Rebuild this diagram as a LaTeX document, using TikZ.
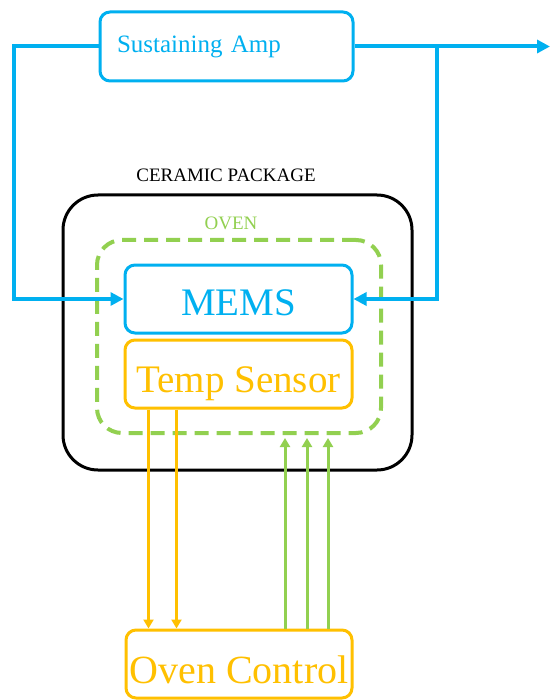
\documentclass[tikz,border=0pt]{standalone}
\usepackage{fontspec}
\setmainfont{Liberation Serif}
\newfontfamily\labelfont{Liberation Serif}
\usetikzlibrary{positioning}
\usetikzlibrary{arrows.meta}
\definecolor{ampblue}{RGB}{0,176,240}
\definecolor{ovengreen}{RGB}{146,208,80}
\definecolor{sensorgold}{RGB}{255,192,0}
\tikzset{main node/.style={shape=rectangle,
    draw, align=center, inner sep=0pt,
    rounded corners=10pt, line width=3pt}}
\tikzset{blue wire/.style={draw=ampblue, line width=4pt,
    -{Triangle[length=13pt,width=13pt]}}}
\tikzset{gold wire/.style={draw=sensorgold, line width=3pt,
    -{Triangle[length=9pt,width=10pt]}}}
\tikzset{green wire/.style={draw=ovengreen, line width=3pt,
    -{Triangle[length=9pt,width=10pt]}}}

\begin{document}
\begin{tikzpicture}[x=1pt,y=-1pt]
    \useasboundingbox[fill=white] (0,0) rectangle (550,700);

    \node[main node, draw=ampblue, text=ampblue, minimum height=69pt,
        text width=219pt, inner xsep=17pt, align=left,
        font=\labelfont\fontsize{25}{26}\selectfont, text height=17pt, text depth=4pt]
        (1) at (226.5,46.5) {Sustaining Amp};

    \node[main node, draw=black, rounded corners=35pt,
        minimum width=349pt, minimum height=275pt] (2) at (237.5,332.5) {};
    \node[anchor=base, font=\labelfont\fontsize{19}{20}\selectfont] (2l) at (226,182) {CERAMIC PACKAGE};

    \node[main node, draw=ovengreen, line width=4pt, dash pattern=on 14pt off 8pt,
        rounded corners=25pt, minimum width=284pt, minimum height=193pt] (3) at (239,336.5) {};
    \node[anchor=base, text=ovengreen, font=\labelfont\fontsize{19}{20}\selectfont] (3l) at (231,230) {OVEN};

    \node[main node, draw=ampblue, text=ampblue, minimum width=227pt, minimum height=68pt,
        font=\labelfont\fontsize{39}{40}\selectfont, text height=32pt, text depth=0pt]
        (4) at (238.5,299) {MEMS};
    \node[main node, draw=sensorgold, text=sensorgold, minimum width=227pt, minimum height=68pt,
        font=\labelfont\fontsize{39}{40}\selectfont, text height=36pt, text depth=0pt]
        (5) [below = 4pt of 4] {Temp Sensor};
%    \node[main node] (6) [below = 8cm of 5] {Oven Control};
    \node[main node, draw=sensorgold, text=sensorgold, minimum width=226pt, minimum height=68pt,
        font=\labelfont\fontsize{40}{41}\selectfont, text height=38pt, text depth=0pt]
        (6) at (239,664) {Oven Control};

    \coordinate (l) at (14,299);
    \coordinate (j) at (437,0);
    \coordinate (out) at (550,46.5);

    \path[blue wire]
    (1.west) -| (l) -- (4.west);
    \path[blue wire]
    (1.east) -- (out);
    \path[blue wire]
    (j |- 1.east) |- (4.east);

    \path[gold wire] ([xshift=-90pt]5.south) -- ([xshift=-90pt]5.south |- 6.north);
    \path[gold wire] ([xshift=-62pt]5.south) -- ([xshift=-62pt]5.south |- 6.north);

    \path[green wire, shorten >=3pt] ([xshift=46pt]6.north) -- ([xshift=46pt]6.north |- 3.south);
    \path[green wire, shorten >=3pt] ([xshift=68pt]6.north) -- ([xshift=68pt]6.north |- 3.south);
    \path[green wire, shorten >=3pt] ([xshift=89pt]6.north) -- ([xshift=89pt]6.north |- 3.south);
\end{tikzpicture}
\end{document}
